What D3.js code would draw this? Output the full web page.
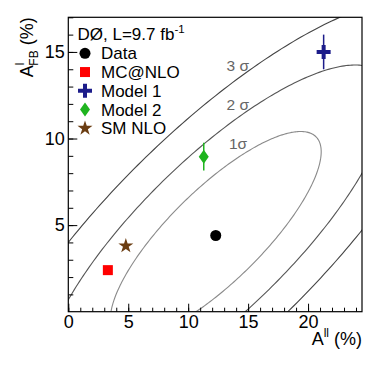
<!DOCTYPE html>
<html>
<head>
<meta charset="utf-8">
<script src="https://cdn.jsdelivr.net/npm/d3@7"></script>
<style>
  body { margin: 0; background: #fff; }
  svg { display: block; font-family: "Liberation Sans", Arial, Helvetica, sans-serif; }
</style>
</head>
<body>
<svg id="chart" width="382" height="367"></svg>
<script>
// ---- data ----
const pointNames = ["Data", "MC@NLO", "Model 1", "Model 2", "SM NLO"];
const allValues  = [12.3, 3.3, 21.3, 11.3, 4.8];    // A^ll (%)
const afbValues  = [4.4, 2.4, 15.0, 8.95, 3.8];     // A^l_FB (%)
const afbErrors  = [0, 0, 1.0, 0.8, 0];

// measurement covariance used for the contours
const centerAll = 12.3, centerAfb = 4.4;
const sigmaAll = 5.8, sigmaAfb = 3.96, rho = 0.805;
const contourLabels = ["1σ", "2 σ", "3 σ"];
const contourChi2 = [2.30, 6.18, 11.83];
const labelAll = [13.4, 13.2, 13.2];
const labelAfb = [9.4, 11.65, 13.9];

const xTicks = [0, 5, 10, 15, 20];
const yTicks = [5, 10, 15];

// ---- setting the stage ----
const svg = d3.select("#chart");
const frameL = 68.3, frameR = 362, frameT = 17.3, frameB = 311.7;

const x = d3.scaleLinear().domain([0, 24.5]).range([frameL, frameR]);
const y = d3.scaleLinear().domain([0, 17]).range([frameB, frameT]);

svg.append("clipPath").attr("id", "clip")
  .append("rect").attr("x", frameL).attr("y", frameT)
  .attr("width", frameR - frameL).attr("height", frameB - frameT);

// ---- contours ----
const contourColors = ["#8a8a8a", "#555", "#444"];
const ts = d3.range(0, 361).map(d => d * Math.PI / 180);
const ellipse = k => ts.map(t => {
  const a = Math.cos(t), b = Math.sin(t);
  return [centerAll + k * sigmaAll * a,
          centerAfb + k * sigmaAfb * (rho * a + Math.sqrt(1 - rho * rho) * b)];
});
const line = d3.line().x(d => x(d[0])).y(d => y(d[1]));

const contours = svg.append("g").attr("clip-path", "url(#clip)");
contourChi2.forEach((c, i) => {
  contours.append("path")
    .attr("d", line(ellipse(Math.sqrt(c))))
    .attr("fill", "none")
    .attr("stroke", contourColors[i])
    .attr("stroke-width", 1.1);
  svg.append("text")
    .attr("x", x(labelAll[i])).attr("y", y(labelAfb[i]))
    .attr("font-size", 15.5).attr("fill", "#666")
    .text(contourLabels[i]);
});

// ---- axes ----
const xMajor = d3.axisBottom(x).tickValues(xTicks).tickSize(-8).tickPadding(3.5);
const xMinor = d3.axisBottom(x).tickValues(d3.range(0, 25)).tickSize(-4).tickFormat("");
const yMajor = d3.axisLeft(y).tickValues(yTicks).tickSize(-9).tickPadding(3.5);
const yMinor = d3.axisLeft(y).tickValues(d3.range(1, 18)).tickSize(-5).tickFormat("");

[[xMinor, "x"], [xMajor, "x"], [yMinor, "y"], [yMajor, "y"]].forEach(([ax, k]) => {
  const g = svg.append("g")
    .attr("transform", k === "x" ? `translate(0,${frameB})` : `translate(${frameL},0)`)
    .call(ax);
  g.select(".domain").remove();
  g.selectAll("line").attr("stroke", "#000");
  g.selectAll("text").attr("font-size", 18).attr("font-family", null).attr("fill", "#000");
});

svg.append("rect")
  .attr("x", frameL).attr("y", frameT)
  .attr("width", frameR - frameL).attr("height", frameB - frameT)
  .attr("fill", "none").attr("stroke", "#000").attr("stroke-width", 1.2);

// axis titles
const xt = svg.append("text").attr("x", frameR).attr("y", 345)
  .attr("text-anchor", "end").attr("font-size", 18);
xt.append("tspan").text("A");
xt.append("tspan").attr("font-size", 12).attr("dy", -8).text("ll");
xt.append("tspan").attr("dy", 8).text(" (%)");

const yt = svg.append("text")
  .attr("transform", `translate(33,${frameT}) rotate(-90)`)
  .attr("text-anchor", "end").attr("font-size", 18);
yt.append("tspan").text("A");
yt.append("tspan").attr("font-size", 12).attr("dy", -9).text("l");
yt.append("tspan").attr("font-size", 12).attr("dx", -3).attr("dy", 14).text("FB");
yt.append("tspan").attr("dy", -5).text(" (%)");

// ---- markers ----
const colors = ["#000", "#ff0000", "#1c1c8a", "#1fb41f", "#6b3d12"];
const crossPath = "M-2,-7H2V-2H7V2H2V7H-2V2H-7V-2H-2Z";
const diamondPath = "M0,-7L5,0L0,7L-5,0Z";

function marker(g, i, cx, cy) {
  const c = colors[i];
  if (i === 0) g.append("circle").attr("cx", cx).attr("cy", cy).attr("r", 5.5).attr("fill", c);
  if (i === 1) g.append("rect").attr("x", cx - 5).attr("y", cy - 5).attr("width", 10).attr("height", 10).attr("fill", c);
  if (i === 2) g.append("path").attr("d", crossPath).attr("transform", `translate(${cx},${cy})`).attr("fill", c);
  if (i === 3) g.append("path").attr("d", diamondPath).attr("transform", `translate(${cx},${cy})`).attr("fill", c);
  if (i === 4) g.append("path").attr("d", d3.symbol(d3.symbolStar, 70)()).attr("transform", `translate(${cx},${cy})`).attr("fill", c);
}

const pts = svg.append("g");
pointNames.forEach((n, i) => {
  if (afbErrors[i] > 0) {
    pts.append("line")
      .attr("x1", x(allValues[i])).attr("x2", x(allValues[i]))
      .attr("y1", y(afbValues[i] - afbErrors[i])).attr("y2", y(afbValues[i] + afbErrors[i]))
      .attr("stroke", colors[i]).attr("stroke-width", 1.5);
  }
  marker(pts, i, x(allValues[i]), y(afbValues[i]));
});

// ---- legend ----
const lg = svg.append("g");
const head = lg.append("text").attr("x", 77.5).attr("y", 39.5).attr("font-size", 17);
head.append("tspan").text("DØ, L=9.7 fb");
head.append("tspan").attr("font-size", 11.5).attr("dy", -7).text("-1");

pointNames.forEach((n, i) => {
  const cy = 53.3 + i * 18.75;
  marker(lg, i, 85, cy);
  lg.append("text").attr("x", 101).attr("y", cy + 6).attr("font-size", 17).text(n);
});
</script>
</body>
</html>
